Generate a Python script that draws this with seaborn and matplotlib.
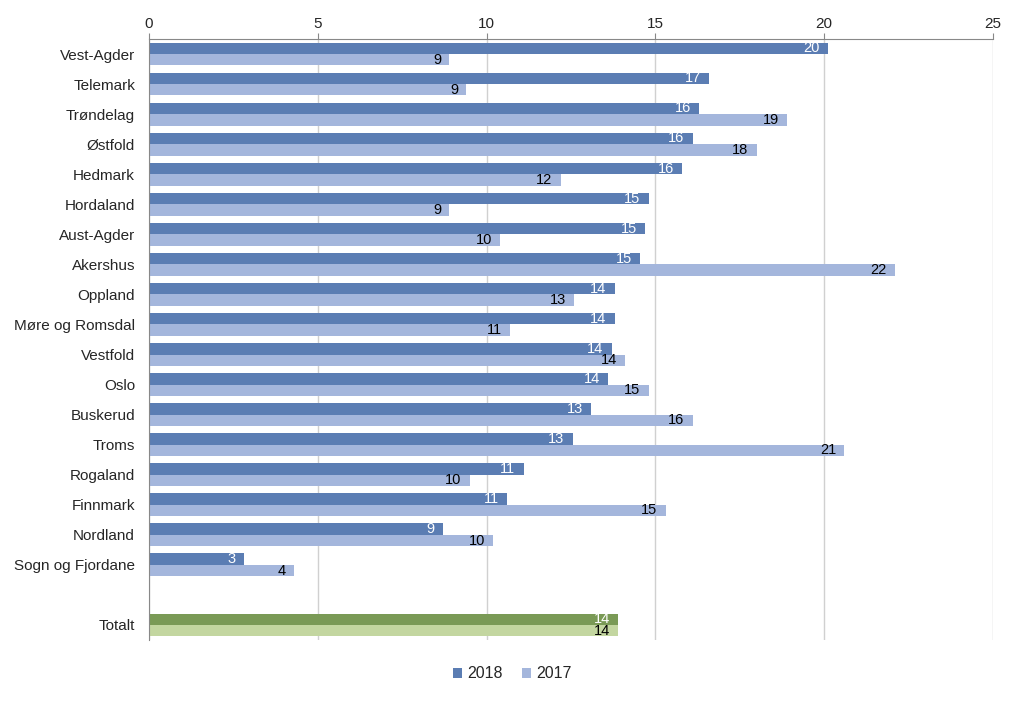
import pandas as pd
import numpy as np
import matplotlib.pyplot as plt
import seaborn as sns

#Fylker i rekkefølge som i figuren
fylker = ['Vest-Agder', 'Telemark', 'Trøndelag', 'Østfold', 'Hedmark', 'Hordaland',
          'Aust-Agder', 'Akershus', 'Oppland', 'Møre og Romsdal', 'Vestfold', 'Oslo',
          'Buskerud', 'Troms', 'Rogaland', 'Finnmark', 'Nordland', 'Sogn og Fjordane',
          'Totalt']
verdi_2018 = [20.1, 16.6, 16.3, 16.1, 15.8, 14.8, 14.7, 14.55, 13.8, 13.8, 13.7, 13.6,
              13.1, 12.55, 11.1, 10.6, 8.7, 2.8, 13.9]
verdi_2017 = [8.9, 9.4, 18.9, 18.0, 12.2, 8.9, 10.4, 22.1, 12.6, 10.7, 14.1, 14.8,
              16.1, 20.6, 9.5, 15.3, 10.2, 4.3, 13.9]
aar = ['2018', '2017']

df = pd.DataFrame({
    'Fylke': fylker * 2,
    'Verdi': verdi_2018 + verdi_2017,
    'Aar': ['2018'] * len(fylker) + ['2017'] * len(fylker),
})

#Tom kategori gir mellomrom før Totalt
order = fylker[:-1] + [' '] + ['Totalt']

sns.set_style('white')
plt.rcParams['font.family'] = ['Liberation Sans', 'DejaVu Sans']

farger = {'2018': '#5b7db3', '2017': '#a4b6dc'}
farger_tot = {'2018': '#7a9a56', '2017': '#c3d6a0'}

fig = plt.figure(figsize=(10.24, 7.01), dpi=100)
ax = fig.add_axes([149 / 1024, 1 - 640 / 701, (993 - 149) / 1024, (640 - 39) / 701])

sns.barplot(data=df, y='Fylke', x='Verdi', hue='Aar', hue_order=aar, order=order,
            palette=farger, orient='h', width=0.76, ax=ax, legend=True,
            saturation=1, errorbar=None, linewidth=0, gap=0)

#Farge og etiketter for søylene
for cont, a in zip(ax.containers, aar):
    for p in cont:
        y_mid = p.get_y() + p.get_height() / 2
        idx = int(round(y_mid))
        if order[idx] == 'Totalt':
            p.set_facecolor(farger_tot[a])
        w = p.get_width()
        if np.isnan(w) or w == 0:
            continue
        ax.annotate(f'{w:.0f}', (w, y_mid), xytext=(-6, 0), textcoords='offset points',
                    ha='right', va='center', fontsize=10.5,
                    color='white' if a == '2018' else 'black')

ax.set_xlim(0, 25)
ax.set_ylim(len(order) - 0.5, -0.5)
ax.set_xticks(range(0, 26, 5))
ax.xaxis.tick_top()
ax.tick_params(axis='x', length=4, color='#888888', labelsize=11, pad=2)
ax.grid(axis='x', color='#d0d0d0', linewidth=1)
ax.set_axisbelow(True)
ax.set_xlabel('')
ax.set_ylabel('')

ax.set_yticks(range(len(order)))
ax.set_yticklabels(order)
ax.tick_params(axis='y', length=0, labelsize=11, pad=10)
ax.set_yticks(np.arange(-0.5, len(order), 1), minor=True)
ax.tick_params(axis='y', which='minor', length=5, color='#888888')

for s in ['right', 'bottom']:
    ax.spines[s].set_visible(False)
ax.spines['top'].set_color('#888888')
ax.spines['left'].set_color('#888888')

handles, labels = ax.get_legend_handles_labels()
ax.legend(handles, labels, loc='center', bbox_to_anchor=(0.5, 1 - 674 / 701),
          bbox_transform=fig.transFigure, ncol=2, frameon=False, fontsize=11.5,
          handlelength=0.6, handleheight=0.6, handletextpad=0.3, columnspacing=1.2)

fig.savefig('out.png', dpi=100)
